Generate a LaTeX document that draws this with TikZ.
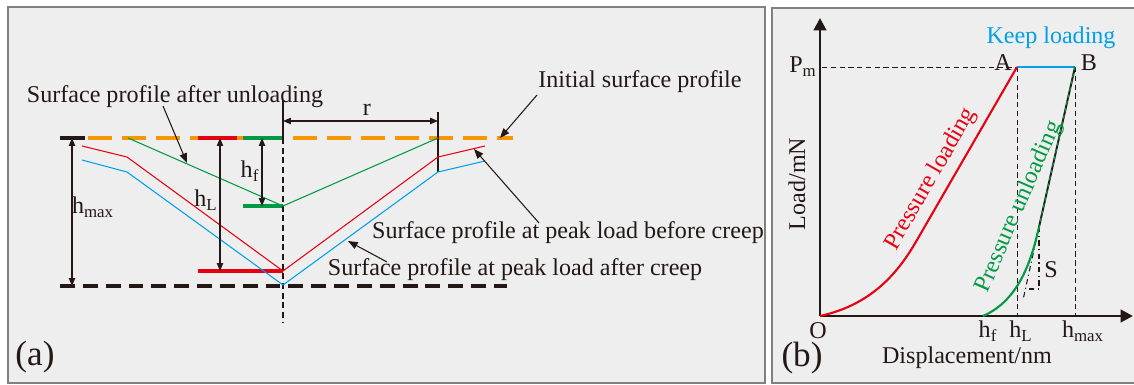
\documentclass[tikz,border=0pt]{standalone}
\usepackage{fontspec}
\setmainfont{Liberation Serif}
\usetikzlibrary{arrows.meta}
\definecolor{txt}{HTML}{231815}
\definecolor{pred}{HTML}{E60012}
\definecolor{pgreen}{HTML}{009944}
\definecolor{pblue}{HTML}{00A0E9}
\definecolor{porange}{HTML}{F39800}
\definecolor{panel}{HTML}{EEEEEE}
\begin{document}
\begin{tikzpicture}[x=0.02cm, y=-0.02cm,
    lbl/.style={font=\fontsize{13.7}{16}\selectfont, text=txt, inner sep=0pt},
    big/.style={font=\fontsize{20}{24}\selectfont, text=txt, inner sep=0pt},
    dim/.style={{Triangle[length=4.5pt,width=3.6pt]}-{Triangle[length=4.5pt,width=3.6pt]}, line width=0.6pt, draw=txt},
    pointer/.style={-{Triangle[length=5.5pt,width=4.2pt]}, line width=0.6pt, draw=txt},
    profile/.style={line width=0.6pt},
    level/.style={line width=1.8pt},
    axis/.style={-{Triangle[length=7pt,width=7pt]}, line width=1.7pt, draw=txt},
    guide/.style={dash pattern=on 3pt off 2pt, line width=0.5pt, draw=txt},
  ]
    \useasboundingbox (0,0) rectangle (1134,385);
    \fill[white] (0,0) rectangle (1134,385);
    \draw[gray, fill=panel, line width=0.7pt] (8,7) rectangle (765,383);
    \draw[gray, fill=panel, line width=0.7pt] (772,8) rectangle (1140,383);

    % (a) surface profiles
    \coordinate (top) at (283,138);
    \coordinate (tip) at (283,285);
    \coordinate (edge) at (438,138);
    \draw[porange, level, dash pattern=on 13.7pt off 5.7pt] (88,138) -- (513,138);
    \draw[txt, level] (60,138) -- (85,138);
    \draw[txt, level, dash pattern=on 8.5pt off 4.5pt] (60,286) -- (507,286);
    \draw[pred, level] (198,138) -- (237,138);
    \draw[pgreen, level] (243,138) -- (top);
    \draw[pgreen, level] (243,206) -- (283,206);
    \draw[pred, level] (198,271) -- (283,271);

    % center line and r
    \draw[txt, line width=0.6pt] (283,100) -- (top);
    \draw[txt, line width=0.6pt, dash pattern=on 3.5pt off 2pt] (top) -- (283,322);
    \draw[txt, line width=0.6pt] (438,112) -- (438,172);
    \coordinate (r0) at (283,121);
    \coordinate (r1) at (438,121);
    \draw[dim] (r0) -- (r1);
    \node[lbl] (rlbl) at (367,110) {r};

    % profiles
    \draw[pgreen, profile] (128,138) -- (283,206) -- (edge);
    \draw[pred, profile] (82,146) -- (127,157) -- (283,271) -- (438,157) -- (485,146);
    \draw[pblue, profile] (82,160) -- (127,172) -- (tip) -- (438,172) -- (485,161);

    % depths
    \draw[dim] (262,138) -- (262,206);
    \node[lbl] (hf) at (250,171) {h\textsubscript{f}};
    \draw[dim] (220,138) -- (220,271);
    \node[lbl] (hl) at (206,200) {h\textsubscript{L}};
    \draw[dim] (72,138) -- (72,286);
    \node[lbl] (hmax) at (93,207) {h\textsubscript{max}};

    % labels with pointers
    \node[lbl] (unload) at (175,97) {Surface profile after unloading};
    \coordinate (unloadA) at (163,106);
    \coordinate (unloadB) at (187,163);
    \draw[pointer] (unloadA) -- (unloadB);
    \node[lbl] (initial) at (640,82) {Initial surface profile};
    \coordinate (initialA) at (537,95);
    \coordinate (initialB) at (500,138);
    \draw[pointer] (initialA) -- (initialB);
    \node[lbl] (before) at (568,233) {Surface profile at peak load before creep};
    \coordinate (beforeA) at (539,223);
    \coordinate (beforeB) at (474,149);
    \draw[pointer] (beforeA) -- (beforeB);
    \node[lbl] (after) at (515,270) {Surface profile at peak load after creep};
    \coordinate (afterA) at (387,262);
    \coordinate (afterB) at (348,241);
    \draw[pointer] (afterA) -- (afterB);
    \node[big] (pa) at (35,357) {(a)};

    % (b) load-displacement curve
    \coordinate (O) at (820,316);
    \coordinate (A) at (1017,67);
    \coordinate (B) at (1075,67);
    \coordinate (J) at (1039,227);
    \coordinate (K) at (1039,289);
    \coordinate (L) at (1025.5,289);
    \coordinate (T) at (1023,300);
    \coordinate (hfb) at (983,316);
    \draw[guide] (822,67) -- (A);
    \draw[guide] (A) -- (1017,316);
    \draw[guide] (B) -- (1075,316);
    \draw[axis] (O) -- (820,18);
    \draw[axis] (O) -- (1133,316);
    \draw[pblue, line width=1.5pt] (A) -- (B);
    \draw[pred, line width=1.2pt] (O) .. controls (870,305) and (897,275) .. (917,240) -- (A);
    \draw[txt, line width=1.1pt] (B) -- (J);
    \draw[txt, line width=0.6pt, dash dot] (J) -- (T);
    \draw[txt, line width=0.6pt, dash dot] (J) -- (K) -- (L);
    \draw[pgreen, line width=0.7pt, dash pattern=on 2pt off 2pt] (B) -- (J);
    \draw[pgreen, line width=1.2pt] (J) .. controls (1032,258) and (1020,300) .. (hfb);
    \node[lbl] (S) at (1051,270) {S};
    \node[lbl, text=pblue] (keep) at (1051,38) {Keep loading};
    \node[lbl] (Albl) at (1003,63) {A};
    \node[lbl] (Blbl) at (1089,63) {B};
    \node[lbl] (Pm) at (803,67) {P\textsubscript{m}};
    \node[lbl] (Olbl) at (818,331) {O};
    \node[lbl] (hfx) at (988,331) {h\textsubscript{f}};
    \node[lbl] (hlx) at (1021,331) {h\textsubscript{L}};
    \node[lbl] (hmaxx) at (1083,331) {h\textsubscript{max}};
    \node[lbl] (xlbl) at (967,358) {Displacement/nm};
    \node[lbl, rotate=90] (ylbl) at (797,184) {Load/mN};
    \node[lbl, text=pred, rotate=60] (loadlbl) at (931,179) {Pressure loading};
    \node[lbl, text=pgreen, rotate=66.6] (unloadlbl) at (1019,207) {Pressure unloading};
    \node[big] (pb) at (802,358) {(b)};
  \end{tikzpicture}
\end{document}
